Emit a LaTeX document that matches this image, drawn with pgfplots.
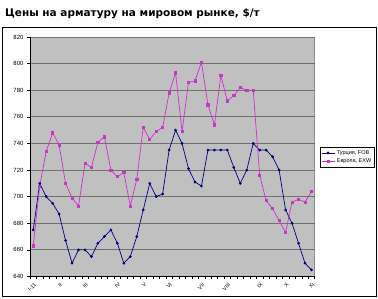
\documentclass[border=0pt]{standalone}
\usepackage{fontspec}
\setmainfont{Liberation Sans}
\newfontfamily\titlefont{DejaVu Sans}
\usepackage{pgfplots}
\pgfplotsset{compat=1.18}
\definecolor{turk}{HTML}{000080}
\definecolor{euro}{HTML}{CC33CC}
\definecolor{plotbg}{HTML}{C0C0C0}
\definecolor{gridc}{HTML}{707070}
\begin{document}
\begin{tikzpicture}[x=1pt,y=1pt]
\useasboundingbox (0,0) rectangle (378,299);
\fill[white] (0,0) rectangle (378,299);
\node[anchor=west, inner sep=0pt, font=\titlefont\bfseries\fontsize{10.5}{12}\selectfont] at (5,285) {Цены на арматуру на мировом рынке, \$/т};
\begin{axis}[at={(30pt,22.5pt)}, anchor=south west, scale only axis,
 width=284.7pt, height=239.5pt,
 xmin=-0.5, xmax=43.5, ymin=640, ymax=820,
 axis background/.style={fill=plotbg},
 axis x line*=bottom, axis y line*=left,
 axis line style={black, line width=0.6pt},
 ytick={640,660,...,820}, ymajorgrids, grid style={gridc, line width=0.9pt},
 xtick={0,4,8,13,17,21,26,30,35,39,43},
 xticklabels={I-11,II,III,IV,V,VI,VII,VIII,IX,X,XI},
 minor xtick={-0.5,0.5,...,43.5},
 major x tick style={draw=none},
 x tick label style={rotate=45, anchor=north east, font=\fontsize{5.5}{6.5}\selectfont, yshift=-1pt, inner sep=1.5pt},
 tick align=outside, major tick length=3pt, minor tick length=3pt,
 tick style={black, line width=0.4pt},
 y tick label style={font=\fontsize{6}{7}\selectfont},
 /pgf/number format/assume math mode=true,
 legend style={at={(1.0186,0.5407)}, anchor=north west, font=\fontsize{5.5}{6.5}\selectfont, draw=black, inner sep=1pt, row sep=-1pt, line width=0.4pt},
 legend cell align=left,
 legend image code/.code={\draw[mark repeat=2,mark phase=2] plot coordinates {(0pt,0pt)(6.5pt,0pt)(13pt,0pt)};},
]
\addplot[turk, line width=0.7pt, mark=*, mark size=1pt] coordinates {
(0,675)(1,710)(2,700)(3,695)(4,687)(5,667)(6,650)(7,660)(8,660)(9,655)(10,665)
(11,670)(12,675)(13,665)(14,650)(15,655)(16,670)(17,690)(18,710)(19,700)(20,702)
(21,735)(22,750)(23,740)(24,721)(25,711)(26,708)(27,735)(28,735)(29,735)(30,735)
(31,722)(32,710)(33,720)(34,740)(35,735)(36,735)(37,730)(38,720)(39,690)(40,680)
(41,665)(42,650)(43,645)};
\addlegendentry{Турция, FOB}
\addplot[euro, line width=0.7pt, mark=square*, mark size=1.1pt] coordinates {
(0,663)(1,708)(2,734)(3,748)(4,739)(5,710)(6,699)(7,693)(8,725)(9,722)(10,741)
(11,745)(12,720)(13,715)(14,718)(15,693)(16,713)(17,752)(18,743)(19,749)(20,752)
(21,778)(22,793)(23,749)(24,786)(25,787)(26,801)(27,769)(28,754)(29,791)(30,772)
(31,776)(32,782)(33,780)(34,780)(35,716)(36,697)(37,691)(38,682)(39,673)(40,696)
(41,698)(42,696)(43,704)};
\addlegendentry{Европа, EXW}
\draw[gridc, line width=0.6pt] (rel axis cs:1,0) -- (rel axis cs:1,1);
\end{axis}
\draw[black, line width=1pt] (2,2) rectangle (376,271);
\end{tikzpicture}
\end{document}
